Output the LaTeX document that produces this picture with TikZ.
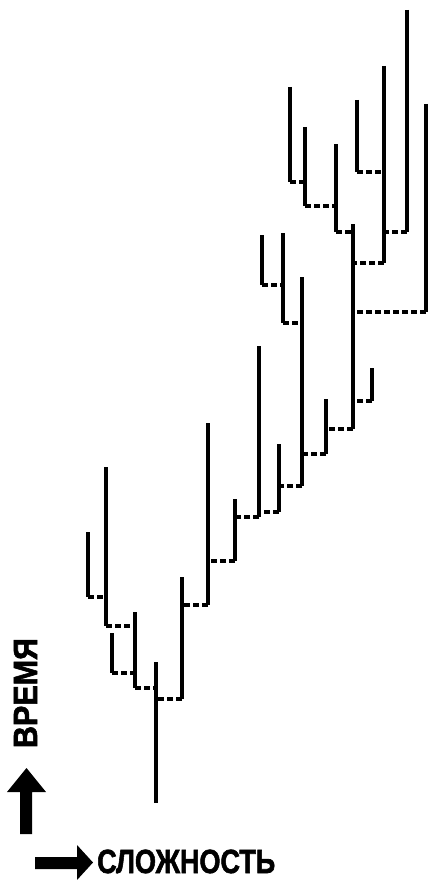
\documentclass[tikz,border=0pt]{standalone}
\usepackage{fontspec}
\usepackage{graphicx}
\setmainfont{Liberation Sans}
\newfontfamily\labelfont[FakeBold=2]{Liberation Sans}
\begin{document}
\begin{tikzpicture}[x=1pt,y=-1pt,
  branch/.style={line width=3.4pt},
  link/.style={line width=3.4pt,dash pattern=on 6pt off 3pt},
  arrowshape/.style={fill=black,draw=none},
  axislabel/.style={font=\labelfont\bfseries\fontsize{33.5}{36}\selectfont,inner sep=0pt}]
\useasboundingbox (0,0) rectangle (431,880);
% vertical branches: name / x / top / bottom
\foreach \n/\x/\t/\b in {
  A/88/532/597, B/106/467/626, D/112/633/673, C/135/612/688,
  E/156/662/803, F/182/577/699, G/208/423/605, H/235/499/561,
  I/259/346/517, J/279/444/512, K/302/277/486, L/326/399/454,
  M/353/224/429, N/372/368/401, P/262/235/285, Q/283/233/323,
  R/290/87/182, S/305/127/206, T/336/144/232, U/357/100/172,
  V/384/66/263, W/407/10/232, X/426/104/312}{
  \coordinate (\n top) at (\x,\t);
  \coordinate (\n bot) at (\x,\b);
  \draw[branch] (\n top) -- (\n bot);
}
% dashed links: child / parent
\foreach \a/\p in {A/B, B/C, D/C, C/E, F/E, G/F, H/G, I/H, J/I, K/J,
  L/K, M/L, N/M, P/Q, Q/K, R/S, S/T, T/M, U/V, V/M, W/V, X/M}{
  \draw[link] (\a bot) -- (\a bot -| \p top);
}
% axis arrows
\fill[arrowshape] (20,834) -- (20,792) -- (7,792) -- (26.5,768) -- (46,792)
  -- (32,792) -- (32,834) -- cycle;
\fill[arrowshape] (35,857) -- (77,857) -- (77,845) -- (93,862.5) -- (77,880)
  -- (77,869) -- (35,869) -- cycle;
% labels
\node[axislabel,rotate=90,anchor=base] (vremya) at (37,693)
  {\resizebox{110pt}{\height}{ВРЕМЯ}};
\node[axislabel,anchor=base west] (slozhnost) at (97,873)
  {\resizebox{178pt}{\height}{СЛОЖНОСТЬ}};
\end{tikzpicture}
\end{document}
